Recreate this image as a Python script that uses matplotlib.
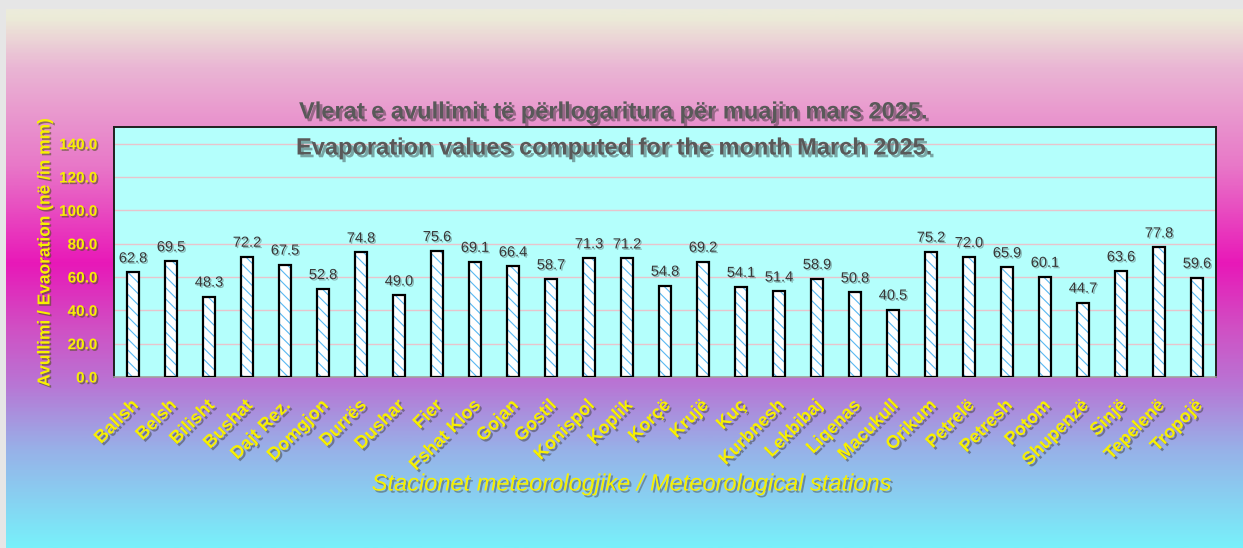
import numpy as np
import matplotlib
matplotlib.use("Agg")
import matplotlib.pyplot as plt
import matplotlib.patheffects as pe
from matplotlib.colors import LinearSegmentedColormap
from matplotlib.transforms import offset_copy

# Station names and monthly evaporation (mm), March 2025
stations = ["Ballsh", "Belsh", "Bilisht", "Bushat", "Dajt Rez.", "Domgjon", "Durrës",
            "Dushar", "Fier", "Fshat Klos", "Gojan", "Gostil", "Konispol", "Koplik",
            "Korçë", "Krujë", "Kuç", "Kurbnesh", "Lekbibaj", "Liqenas", "Macukull",
            "Orikum", "Petrelë", "Petresh", "Potom", "Shupenzë", "Sinjë", "Tepelenë",
            "Tropojë"]
evaporation = [62.8, 69.5, 48.3, 72.2, 67.5, 52.8, 74.8, 49.0, 75.6, 69.1, 66.4, 58.7,
               71.3, 71.2, 54.8, 69.2, 54.1, 51.4, 58.9, 50.8, 40.5, 75.2, 72.0, 65.9,
               60.1, 44.7, 63.6, 77.8, 59.6]
y_ticks = [0, 20, 40, 60, 80, 100, 120, 140]

title_sq = "Vlerat e avullimit të përllogaritura për muajin mars 2025."
title_en = "Evaporation values computed for the month March 2025."
ylabel = "Avullimi / Evaoration (në /in mm)"
xlabel = "Stacionet meteorologjike / Meteorological stations"

NARROW = ["Liberation Sans Narrow", "Liberation Sans", "DejaVu Sans"]
SANS = ["Liberation Sans", "DejaVu Sans"]
YELLOW = "#f7f000"

W, H = 1243, 548
fig = plt.figure(figsize=(W / 100, H / 100), dpi=100)

# vertical gradient backdrop
bg = fig.add_axes([0, 0, 1, 1], zorder=-10)
bg.set_axis_off()
grad = LinearSegmentedColormap.from_list("bg", [
    (0.00, "#ecece0"),
    (0.03, "#ecebd8"),
    (0.12, "#eab6d4"),
    (0.30, "#e878c8"),
    (0.48, "#e818b8"),
    (0.60, "#d050c4"),
    (0.70, "#b974d4"),
    (0.82, "#98b0e8"),
    (1.00, "#78f0fa"),
])
bg.imshow(np.linspace(0, 1, 400)[:, None], aspect="auto", cmap=grad,
          extent=[0, 1, 0, 1], origin="upper")
bg.set_xlim(0, 1)
bg.set_ylim(0, 1)
# light grey frame on the top and left edges
bg.add_patch(plt.Rectangle((0, 1 - 9 / H), 1, 9 / H, color="#e6e6e6", lw=0))
bg.add_patch(plt.Rectangle((0, 0), 6 / W, 1, color="#e6e6e6", lw=0))

left, right, top, bottom = 114, 1216, 127, 377
ax = fig.add_axes([left / W, 1 - bottom / H, (right - left) / W, (bottom - top) / H])
ax.set_facecolor("#b4fffc")

x = np.arange(len(stations))
plt.rcParams["hatch.linewidth"] = 0.8
# hatched fill, then black outline on top
ax.bar(x, evaporation, width=0.32, color="white", edgecolor="#58b8f2",
       hatch="\\\\\\", linewidth=0, zorder=3)
ax.bar(x, evaporation, width=0.32, color="none", edgecolor="black",
       linewidth=1.6, zorder=4)

ax.set_xlim(-0.5, len(stations) - 0.5)
ax.set_ylim(0, 150)
ax.set_yticks(y_ticks)
ax.set_yticklabels([f"{v:.1f}" for v in y_ticks])
ax.grid(axis="y", color="#e8c4cc", lw=1.0, zorder=1)
ax.set_axisbelow(True)
ax.tick_params(axis="y", length=0, pad=12)
ax.tick_params(axis="x", length=0, labelbottom=False)
for side in ["top", "right", "left"]:
    ax.spines[side].set_color("#202020")
    ax.spines[side].set_linewidth(1.4)
ax.spines["bottom"].set_color("#a0a0a0")
ax.spines["bottom"].set_linewidth(1.2)

shadow_dark = [pe.SimplePatchShadow(offset=(1.2, -1.2), shadow_rgbFace="#505020", alpha=0.6), pe.Normal()]
for lab in ax.get_yticklabels():
    lab.set_fontfamily(NARROW)
    lab.set_fontweight("bold")
    lab.set_fontsize(11)
    lab.set_color(YELLOW)
    lab.set_path_effects(shadow_dark)

# value labels above bars
for xi, v in zip(x, evaporation):
    ax.annotate(f"{v:.1f}", (xi, v), xytext=(0, 5), textcoords="offset points",
                ha="center", va="bottom", fontsize=10.5, family=NARROW,
                color="#383838", zorder=5,
                path_effects=[pe.SimplePatchShadow(offset=(1, -1), shadow_rgbFace="#303030", alpha=0.35), pe.Normal()])

# rotated station names
name_tr = offset_copy(ax.get_xaxis_transform(), fig=fig, x=-3, y=-20, units="dots")
for xi, name in zip(x, stations):
    ax.text(xi, 0, name, transform=name_tr, rotation=45, rotation_mode="anchor",
            ha="right", va="top", fontsize=13, fontweight="bold", family=SANS,
            color=YELLOW, clip_on=False,
            path_effects=[pe.SimplePatchShadow(offset=(1.5, -1.5), shadow_rgbFace="#404040", alpha=0.5), pe.Normal()])

title_fx = [pe.SimplePatchShadow(offset=(2, -2), shadow_rgbFace="#202020", alpha=0.4), pe.Normal()]
fig.text(614 / W, 1 - 112 / H, title_sq, ha="center", va="center", fontsize=17,
         fontweight="bold", family=NARROW, color="#595959", path_effects=title_fx)
fig.text(615 / W, 1 - 148 / H, title_en, ha="center", va="center", fontsize=17,
         fontweight="bold", family=NARROW, color="#595959", path_effects=title_fx)

fig.text(45 / W, 1 - 252 / H, ylabel, rotation=90, ha="center", va="center",
         fontsize=12.5, fontweight="bold", family=SANS, color=YELLOW, path_effects=shadow_dark)
fig.text(632 / W, 1 - 484 / H, xlabel, ha="center", va="center", fontsize=17,
         style="italic", family=NARROW, color=YELLOW,
         path_effects=[pe.SimplePatchShadow(offset=(1.5, -1.5), shadow_rgbFace="#404040", alpha=0.45), pe.Normal()])

fig.savefig("out.png", dpi=100)
